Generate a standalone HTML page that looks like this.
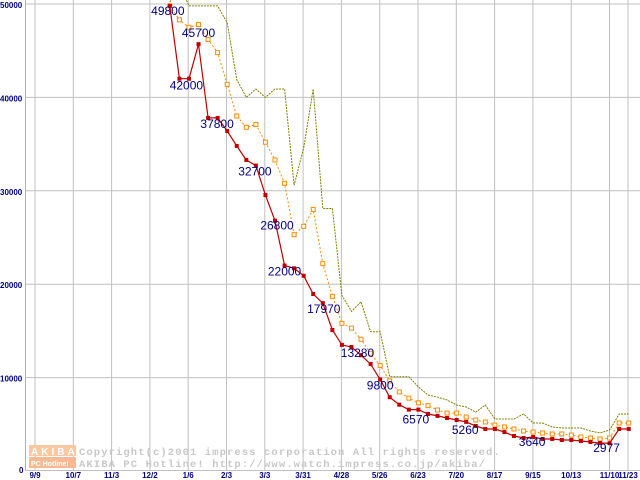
<!DOCTYPE html>
<html><head><meta charset="utf-8"><style>
body{margin:0;background:#fff;}
svg{display:block;}
</style></head><body>
<svg id="chart" width="640" height="480" xmlns="http://www.w3.org/2000/svg" font-family="Liberation Sans, sans-serif">
<g id="grid"></g>
<g id="axes"></g>
<g id="copyright">
  <rect x="29" y="445" width="47" height="11" fill="#f8c8a0"/>
  <text x="31" y="455" font-size="10" font-weight="bold" fill="#fff" letter-spacing="3">AKIBA</text>
  <rect x="29" y="457" width="47" height="11" fill="#f8b890"/>
  <text x="31" y="466" font-size="7" font-weight="bold" fill="#fff">PC Hotline!</text>
  <text x="79" y="455" font-family="Liberation Mono, monospace" font-size="10.5" fill="#c8c8c8" font-weight="bold" letter-spacing="1.1">Copyright(c)2001 impress corporation All rights reserved.</text>
  <text x="79" y="467" font-family="Liberation Mono, monospace" font-size="10.5" fill="#c8c8c8" font-weight="bold" letter-spacing="1.1">AKIBA PC Hotline!  http://www.watch.impress.co.jp/akiba/</text>
</g>
<g id="series"></g>
<g id="labels"></g>
</svg>
<script>
const xTickLabels=["9/9","10/7","11/3","12/2","1/6","2/3","3/3","3/31","4/28","5/26","6/23","7/20","8/17","9/15","10/13","11/10"];
const lastTickLabel="11/23";
const yTicks=[0,10000,20000,30000,40000,50000];
const startWeek=14;
const redPrices=[49800,42000,42000,45700,37800,37800,36400,34800,33300,32700,29550,26800,22000,21700,20900,18950,17970,15100,13500,13280,12400,11450,9800,7900,7100,6570,6570,6100,5900,5670,5460,5260,4820,4500,4500,4170,3750,3530,3640,3430,3430,3320,3320,3210,3100,3000,2977,4500,4500];
const orangePrices=[49800,48300,47500,47800,46200,44800,41400,38000,36800,37100,35200,33300,30800,25300,26200,28000,22200,18700,15800,15300,14100,12600,11300,9640,8460,7800,7300,7000,6530,6200,6200,5780,5460,5250,4920,4710,4500,4280,4170,4070,3960,3960,3850,3640,3530,3430,3530,5140,5140];
const olivePrices=[50200,52000,49800,49800,49800,49800,48000,41900,40000,40900,40000,40900,40900,30600,34600,40900,28100,28100,18800,17100,18100,14900,14900,10100,10100,10100,9000,8140,7900,7600,7070,6850,6300,7070,5570,5570,5570,6100,5140,5140,4710,4600,4600,4600,4280,4070,4390,6100,6100];
const labelIdx=[0,1,3,4,9,11,12,16,19,22,25,31,38,46];
const labelText=["49800","42000","45700","37800","32700","26800","22000","17970","13280","9800","6570","5260","3640","2977"];
const labelDx=[-2,7,0,9,-1,2,0,1,6,0,7,-1,-1,-3];
const labelDy=[9,11,-7,10,10,9,10,10,10,10,14,12,9,9];

const NS="http://www.w3.org/2000/svg";
function xW(w){return 36+w*9.56;}
function yV(v){return 471-v*0.00934;}
function xTick(k){return 35+k*38.3;}
function mk(tag,attrs,parent){const e=document.createElementNS(NS,tag);for(const k in attrs)e.setAttribute(k,attrs[k]);parent.appendChild(e);return e;}
const grid=document.getElementById('grid'),axes=document.getElementById('axes'),series=document.getElementById('series'),labels=document.getElementById('labels');

yTicks.forEach(v=>{
  if(v>0){const l=mk('line',{x1:25,x2:640,y1:yV(v),y2:yV(v),stroke:'#c0c0c0','stroke-width':1},grid);
  
  }
  const t=mk('text',{x:v===0?19:0,y:yV(v)+(v===0?2:4),'font-size':8,'font-weight':'bold',fill:'#000080','font-family':'Liberation Sans, sans-serif'},axes);
  t.textContent=String(v);
  
  
});
xTickLabels.forEach((s,k)=>{
  const l=mk('line',{x1:xTick(k),x2:xTick(k),y1:0,y2:470,stroke:'#c0c0c0','stroke-width':1},grid);
  
  
  const t=mk('text',{x:xTick(k),y:478,'font-size':8,'font-weight':'bold',fill:'#000080','text-anchor':'middle'},axes);
  t.textContent=s;
  
  
});
{const l=mk('line',{x1:628,x2:628,y1:0,y2:470,stroke:'#c0c0c0'},grid);


const t=mk('text',{x:628,y:478,'font-size':8,'font-weight':'bold',fill:'#000080','text-anchor':'middle'},axes);
t.textContent=lastTickLabel;

}
{const a=mk('line',{x1:25.5,x2:25.5,y1:0,y2:471,stroke:'#b0b0b0'},axes);


const b=mk('line',{x1:25,x2:640,y1:470.5,y2:470.5,stroke:'#c0c0c0'},axes);

}

function pts(arr){return arr.map((v,i)=>xW(startWeek+i).toFixed(1)+','+yV(v).toFixed(1)).join(' ');}
const ol=mk('polyline',{points:pts(olivePrices),fill:'none',stroke:'#808000','stroke-width':1,'stroke-dasharray':'2,1'},series);


const or=mk('polyline',{points:pts(orangePrices),fill:'none',stroke:'#ff8c00','stroke-width':1,'stroke-dasharray':'2,2'},series);


orangePrices.forEach((v,i)=>{
  const r=mk('rect',{x:xW(startWeek+i)-2,y:yV(v)-2,width:4,height:4,fill:'#fff',stroke:'#ff8c00','stroke-width':1},series);
  
  
});
const rd=mk('polyline',{points:pts(redPrices),fill:'none',stroke:'#c00000','stroke-width':1.2},series);


redPrices.forEach((v,i)=>{
  const r=mk('rect',{x:xW(startWeek+i)-2,y:yV(v)-2,width:4,height:4,fill:'#c00000'},series);
  
  
});
labelIdx.forEach((idx,j)=>{
  const t=mk('text',{x:xW(startWeek+idx)+labelDx[j],y:yV(redPrices[idx])+labelDy[j],'font-size':12,fill:'#000080','text-anchor':'middle'},labels);
  t.textContent=labelText[j];
  
  
});
</script>
</body></html>
